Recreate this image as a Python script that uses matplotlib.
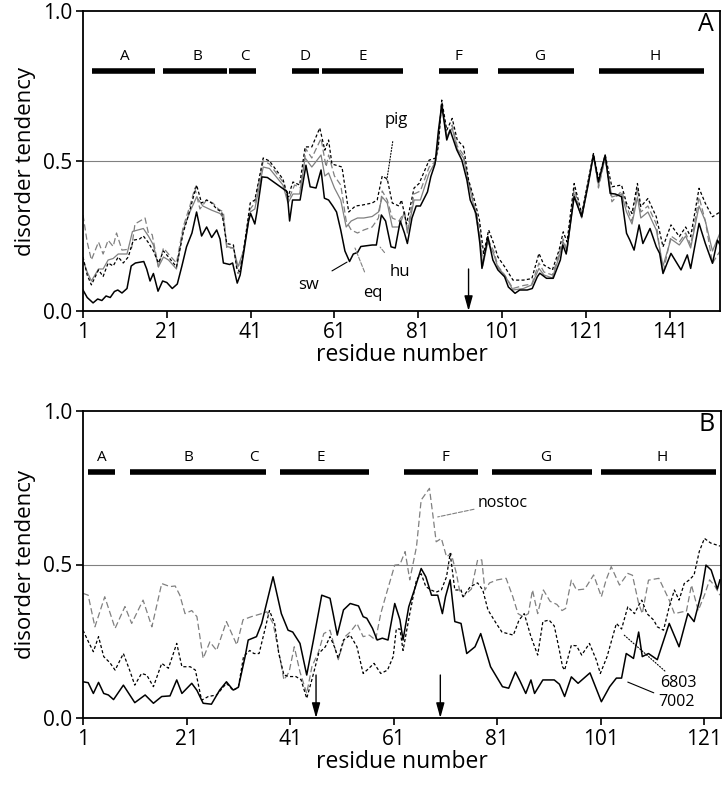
import matplotlib
matplotlib.use("Agg")
import matplotlib.pyplot as plt

plt.rcParams['font.family'] = ['Open Sans', 'DejaVu Sans']

# ---------------- panel A data (residue, disorder tendency) ----------------
sw_x = [1, 2, 3.4, 4.5, 5.5, 6.5, 7.5, 8.5, 9.3, 10.3, 11.5, 12.5, 13.5, 15.5, 16.2, 17, 17.8, 18.9, 20, 21,
        22.3, 23.5, 24.6, 25.7, 27, 28.1, 29.3, 30.5, 31.7, 32.9, 33.7, 34.5, 36, 36.7, 37.8, 38.5, 39.3, 40.5,
        41, 42, 42.5, 43.7, 45, 47, 49.7, 50.3, 51, 52.8, 54.2, 55.2, 56.6, 57.8, 58.6, 59.6, 60.6, 61.5, 62.5,
        63.5, 64.6, 65.5, 66.5, 67.3, 70, 71, 72.2, 73.2, 74.5, 75.5, 76.7, 77.7, 78.4, 79.5, 80.5, 81.5, 83.2,
        84, 85, 85.8, 86.6, 87.8, 88.6, 90.2, 91.4, 92.6, 93.4, 94.8, 95.7, 96.2, 97.2, 97.6, 98.8, 100, 101.6,
        102.5, 104.1, 105.2, 107, 108.2, 109.4, 110, 111.6, 113.2, 114.9, 115.5, 116.3, 118.2, 120, 121.6,
        122.8, 124, 125.6, 126.8, 128, 129.5, 130.7, 131.5, 132.5, 133.7, 134.6, 136.3, 137.8, 138.6, 139.4,
        141.3, 143.7, 145.2, 146, 148, 149.5, 151.2, 152.4, 153]
sw_y = [0.07, 0.045, 0.027, 0.04, 0.035, 0.05, 0.045, 0.065, 0.07, 0.06, 0.075, 0.15, 0.16, 0.165, 0.14, 0.1,
        0.125, 0.066, 0.1, 0.095, 0.075, 0.09, 0.15, 0.214, 0.26, 0.33, 0.25, 0.28, 0.245, 0.27, 0.24, 0.16,
        0.155, 0.16, 0.093, 0.12, 0.19, 0.30, 0.325, 0.29, 0.33, 0.447, 0.445, 0.425, 0.398, 0.30, 0.37, 0.37,
        0.486, 0.414, 0.41, 0.47, 0.376, 0.37, 0.35, 0.33, 0.27, 0.2, 0.165, 0.19, 0.195, 0.215, 0.22, 0.22,
        0.32, 0.30, 0.214, 0.21, 0.30, 0.26, 0.225, 0.31, 0.35, 0.35, 0.397, 0.448, 0.49, 0.60, 0.687, 0.57,
        0.603, 0.537, 0.503, 0.437, 0.37, 0.325, 0.225, 0.142, 0.214, 0.248, 0.17, 0.137, 0.114, 0.08, 0.059,
        0.07, 0.07, 0.075, 0.114, 0.126, 0.109, 0.109, 0.17, 0.22, 0.19, 0.381, 0.314, 0.425, 0.52, 0.43,
        0.52, 0.392, 0.39, 0.381, 0.259, 0.236, 0.203, 0.287, 0.225, 0.275, 0.214, 0.192, 0.125, 0.192, 0.137,
        0.187, 0.142, 0.292, 0.225, 0.159, 0.236, 0.22]

pig_x = [1, 2, 3, 4.7, 5.8, 7, 8.2, 9.4, 10.6, 11.8, 13, 14.5, 15.4, 16.5, 17.8, 19, 20.2, 21.4, 23.3, 24.9,
         26.5, 28.1, 29.3, 30.5, 31.7, 32.9, 34.1, 35.3, 36.9, 37.7, 38.5, 39.3, 40.9, 42, 44, 45.5, 48.7, 49.9,
         51.1, 52.7, 54, 55.6, 57.5, 58.7, 59.6, 60.4, 62.8, 64.4, 66, 67.6, 70, 71.2, 72.4, 73.6, 74.8, 76.4,
         77, 78.2, 80, 81.2, 83.6, 85.2, 85.8, 86.6, 87.8, 89.1, 90.3, 91.8, 93, 94.4, 95.6, 96.6, 97.8, 99,
         100, 101.6, 103.6, 106.1, 108.1, 109.8, 111, 113, 114.6, 115.6, 116.5, 118.2, 120, 122.8, 124, 125.6,
         127.2, 129.5, 130.7, 132, 133.3, 134.1, 135.8, 137.8, 139.4, 141.3, 143.3, 144.8, 146, 148, 149.5,
         151.2, 153]
pig_y = [0.18, 0.12, 0.087, 0.137, 0.115, 0.16, 0.15, 0.18, 0.16, 0.18, 0.236, 0.24, 0.25, 0.23, 0.2, 0.16,
         0.2, 0.18, 0.147, 0.26, 0.336, 0.42, 0.36, 0.37, 0.36, 0.34, 0.33, 0.225, 0.22, 0.14, 0.13, 0.2, 0.36,
         0.37, 0.51, 0.5, 0.44, 0.38, 0.43, 0.42, 0.547, 0.547, 0.61, 0.536, 0.57, 0.49, 0.48, 0.33, 0.35,
         0.353, 0.36, 0.37, 0.45, 0.44, 0.36, 0.35, 0.37, 0.29, 0.41, 0.425, 0.503, 0.51, 0.548, 0.703, 0.603,
         0.642, 0.57, 0.548, 0.437, 0.37, 0.303, 0.192, 0.27, 0.225, 0.18, 0.148, 0.103, 0.103, 0.108, 0.192,
         0.153, 0.137, 0.203, 0.264, 0.23, 0.425, 0.325, 0.525, 0.44, 0.52, 0.414, 0.42, 0.359, 0.325, 0.425,
         0.348, 0.375, 0.314, 0.214, 0.287, 0.248, 0.28, 0.248, 0.409, 0.359, 0.314, 0.33]

eq_x = [1, 2, 3, 4.7, 5.8, 7, 8.2, 9, 10.3, 11.5, 12.6, 13.4, 15.8, 16.6, 17.5, 19, 20.2, 21.4, 23.3, 24.9,
        26.5, 27.7, 28.9, 30.5, 32, 33.3, 34.5, 35.3, 36.9, 38, 39.3, 40.9, 42, 44, 45.5, 48.7, 50, 51.5, 53,
        54.2, 55.6, 57.8, 59, 59.6, 61, 62.5, 63.8, 65, 66.5, 68, 70, 71.5, 72.4, 73.6, 74.8, 76.4, 77.7, 78.4,
        80, 81.5, 83.6, 85.2, 85.8, 86.6, 87.8, 89.1, 90.3, 91.8, 93, 94.4, 95.6, 96.4, 97.6, 99, 100, 101.6,
        103.6, 106.1, 108.1, 109.8, 111, 113, 114.6, 115.6, 116.5, 118.2, 120, 122.8, 124, 125.6, 127.2,
        129.5, 130.7, 132, 133.3, 134.1, 135.8, 137.8, 139.4, 141.3, 143.3, 144.8, 146, 148, 149.5, 151.2, 153]
eq_y = [0.32, 0.23, 0.17, 0.23, 0.19, 0.236, 0.215, 0.26, 0.203, 0.205, 0.21, 0.29, 0.31, 0.26, 0.255, 0.147,
        0.21, 0.19, 0.16, 0.28, 0.35, 0.41, 0.34, 0.37, 0.36, 0.34, 0.33, 0.21, 0.21, 0.125, 0.2, 0.34, 0.36,
        0.5, 0.49, 0.43, 0.37, 0.42, 0.41, 0.54, 0.51, 0.575, 0.48, 0.52, 0.45, 0.42, 0.3, 0.27, 0.26, 0.27,
        0.28, 0.31, 0.4, 0.37, 0.31, 0.3, 0.33, 0.27, 0.39, 0.4, 0.48, 0.5, 0.56, 0.70, 0.58, 0.62, 0.55, 0.52,
        0.43, 0.35, 0.28, 0.16, 0.24, 0.2, 0.15, 0.12, 0.075, 0.085, 0.09, 0.16, 0.13, 0.12, 0.19, 0.24, 0.2,
        0.41, 0.31, 0.52, 0.41, 0.51, 0.364, 0.40, 0.35, 0.3, 0.41, 0.33, 0.35, 0.29, 0.125, 0.25, 0.23, 0.26,
        0.22, 0.38, 0.3, 0.159, 0.2]

hu_x = [1, 2, 3, 4.7, 5.8, 7, 8.2, 9.4, 11.5, 12.8, 15.4, 16.6, 17.8, 19, 20.2, 21.4, 23.3, 24.9, 26.5, 28.1,
        29.6, 31.7, 33.7, 34.5, 35.3, 36.9, 38, 39.3, 40.9, 42, 44, 45.5, 48.7, 49.9, 51.1, 52.7, 54, 55.6,
        57.8, 58.7, 59.6, 61, 62.5, 63.8, 65, 66.5, 68, 70, 71.5, 72.4, 73.6, 74.8, 76.4, 77.7, 78.4, 80, 81.5,
        83.6, 85.2, 85.8, 86.6, 87.8, 89.1, 90.3, 91.8, 93, 94.4, 95.6, 96.4, 97.6, 99, 100, 101.6, 103.6,
        106.1, 108.1, 109.8, 111, 113, 114.6, 115.6, 116.5, 118.2, 120, 122.8, 124, 125.6, 127.2, 129.5,
        130.7, 132, 133.3, 134.1, 135.8, 137.8, 139.4, 141.3, 143.3, 144.8, 146, 148, 149.5, 151.2, 153]
hu_y = [0.17, 0.13, 0.10, 0.14, 0.14, 0.17, 0.175, 0.19, 0.19, 0.265, 0.275, 0.25, 0.22, 0.147, 0.18, 0.17,
        0.14, 0.27, 0.33, 0.38, 0.35, 0.336, 0.325, 0.31, 0.215, 0.21, 0.148, 0.2, 0.33, 0.34, 0.48, 0.475,
        0.42, 0.36, 0.39, 0.39, 0.51, 0.48, 0.52, 0.45, 0.46, 0.41, 0.37, 0.28, 0.3, 0.31, 0.31, 0.315, 0.33,
        0.38, 0.36, 0.28, 0.28, 0.33, 0.26, 0.37, 0.37, 0.46, 0.5, 0.58, 0.69, 0.58, 0.61, 0.54, 0.51, 0.43,
        0.34, 0.25, 0.15, 0.23, 0.19, 0.145, 0.12, 0.07, 0.075, 0.087, 0.142, 0.12, 0.11, 0.18, 0.23, 0.2,
        0.39, 0.31, 0.52, 0.42, 0.51, 0.38, 0.39, 0.33, 0.29, 0.38, 0.31, 0.33, 0.27, 0.15, 0.24, 0.22, 0.25,
        0.21, 0.35, 0.3, 0.2, 0.26]

helix_a = ['A', 'B', 'C', 'D', 'E', 'F', 'G', 'H']
helix_a_start = [3.1, 20.1, 35.9, 50.9, 58.0, 86.0, 100.0, 124.2]
helix_a_end = [18.2, 35.4, 42.3, 57.3, 77.4, 95.3, 118.2, 149.2]
helix_a_lab = [11.0, 28.2, 39.7, 54.0, 67.8, 90.7, 110.0, 137.5]

# ---------------- panel B data ----------------
b7002_x = [1, 2, 3, 4, 5, 5.9, 6.9, 8.8, 11, 13, 14.6, 16.2, 17.8, 19.1, 20.1, 22, 23, 24.2, 25.8, 27.4, 28.7,
           30, 31, 32.3, 32.9, 34.5, 35.5, 37.7, 39.3, 40.6, 41.5, 42.9, 44.2, 45.5, 47.1, 48.7, 49.3, 50.1,
           51.3, 52.6, 54.2, 55.1, 55.8, 56.9, 57.8, 58.8, 59.9, 61.2, 62.2, 62.8, 63.9, 65.2, 66.3, 67.2, 68.3,
           69.5, 70.4, 71, 71.9, 72.8, 74, 75.1, 76.7, 77.8, 79.7, 82, 83.2, 84.5, 85.4, 86.5, 87.5, 88.2, 89.8,
           92, 93, 94, 95.3, 96.6, 98.9, 101.1, 102.7, 104, 105, 105.9, 106.8, 107.3, 108.3, 109, 110.2, 111.9,
           114.2, 116.1, 117.8, 119, 120.4, 121.3, 122.3, 123.5, 124]
b7002_y = [0.118, 0.115, 0.08, 0.116, 0.08, 0.075, 0.06, 0.107, 0.05, 0.075, 0.048, 0.07, 0.072, 0.124, 0.08,
           0.113, 0.09, 0.048, 0.045, 0.091, 0.118, 0.091, 0.1, 0.2, 0.254, 0.265, 0.308, 0.46, 0.34, 0.286,
           0.28, 0.243, 0.14, 0.254, 0.40, 0.39, 0.34, 0.27, 0.352, 0.373, 0.365, 0.33, 0.325, 0.292, 0.254,
           0.26, 0.254, 0.373, 0.32, 0.254, 0.362, 0.428, 0.487, 0.46, 0.40, 0.40, 0.34, 0.395, 0.45, 0.314,
           0.308, 0.21, 0.232, 0.275, 0.167, 0.102, 0.097, 0.15, 0.12, 0.08, 0.124, 0.08, 0.124, 0.124, 0.11,
           0.07, 0.134, 0.113, 0.147, 0.053, 0.102, 0.13, 0.13, 0.21, 0.2, 0.194, 0.28, 0.2, 0.21, 0.19, 0.308,
           0.232, 0.34, 0.314, 0.406, 0.498, 0.482, 0.42, 0.45]

b6803_x = [1, 2, 3, 4, 5, 6.2, 7.2, 8.8, 10, 11, 12.3, 13.3, 14.6, 16.2, 17.5, 19.1, 20.1, 21.7, 22.7, 23.9,
           25.2, 26.8, 28.7, 30, 31, 32, 33.2, 34, 35, 36.1, 37, 38, 38.8, 39.8, 40.8, 42.1, 43.1, 44.2, 45.2,
           46.5, 47.8, 48.7, 49.6, 50.3, 51.3, 52.6, 53.9, 55.1, 56.1, 57.2, 58.5, 59.8, 60.9, 61.5, 62.2, 62.8,
           64.1, 65.4, 66.3, 67.2, 68.2, 69.2, 70.2, 71.2, 71.9, 72.8, 74, 74.4, 75.8, 77.2, 78.2, 79.2, 80.8,
           81.9, 84.1, 85.2, 86.2, 87.5, 88.8, 89.8, 91, 92, 93, 93.6, 94, 95.3, 96.3, 97.3, 98.8, 100.1, 100.9,
           102.2, 104, 105, 106.2, 107.5, 108.3, 108.9, 109.9, 111.2, 111.9, 113.1, 114.2, 115.2, 116.1, 117.1,
           118.1, 119, 120, 121, 122.2, 124]
b6803_y = [0.286, 0.25, 0.216, 0.265, 0.2, 0.18, 0.156, 0.21, 0.156, 0.107, 0.145, 0.14, 0.102, 0.178, 0.162,
           0.243, 0.167, 0.167, 0.156, 0.058, 0.07, 0.075, 0.113, 0.09, 0.1, 0.2, 0.22, 0.21, 0.21, 0.286, 0.35,
           0.308, 0.21, 0.14, 0.135, 0.135, 0.125, 0.064, 0.125, 0.21, 0.232, 0.265, 0.23, 0.194, 0.254, 0.27,
           0.232, 0.145, 0.16, 0.178, 0.145, 0.156, 0.2, 0.29, 0.29, 0.22, 0.34, 0.45, 0.47, 0.428, 0.417, 0.41,
           0.417, 0.46, 0.536, 0.417, 0.417, 0.395, 0.428, 0.44, 0.417, 0.352, 0.308, 0.28, 0.27, 0.319, 0.34,
           0.265, 0.205, 0.314, 0.319, 0.3, 0.22, 0.167, 0.156, 0.237, 0.235, 0.205, 0.243, 0.19, 0.145, 0.2,
           0.308, 0.29, 0.362, 0.34, 0.367, 0.384, 0.34, 0.319, 0.297, 0.286, 0.362, 0.417, 0.384, 0.438, 0.45,
           0.466, 0.542, 0.585, 0.57, 0.56]

nostoc_x = [1, 2, 3.3, 5.2, 7.2, 9.1, 10.4, 12.6, 14.3, 16.2, 17.8, 18.8, 19.7, 20.7, 22, 23, 24.2, 25.5, 26.8,
            28.7, 30.7, 31.9, 33.5, 35.5, 36.5, 37.7, 39.1, 39.8, 40.8, 41.8, 42.9, 44.2, 45.2, 46.5, 47.5,
            48.7, 49.6, 50.3, 51.6, 52.6, 53.9, 55.1, 56.3, 57.5, 58.5, 59.5, 61.2, 62.2, 63.2, 64.1, 65.4,
            66.3, 67.9, 68.6, 69.2, 70.2, 71.2, 72.1, 73.1, 73.7, 74.4, 76, 77.2, 78, 78.6, 79.5, 81, 82.7, 84,
            85, 86, 87, 87.8, 88.8, 89.9, 91.2, 92.5, 93.5, 94.2, 95.3, 96.3, 97.9, 99.6, 101.1, 102, 103, 104.6,
            106.2, 107.1, 108.3, 109, 110.2, 112.2, 114.2, 115.2, 116.8, 117.5, 118.5, 119.8, 121, 122, 123, 124]
nostoc_y = [0.406, 0.40, 0.297, 0.395, 0.292, 0.363, 0.308, 0.384, 0.297, 0.438, 0.428, 0.43, 0.40, 0.34,
            0.35, 0.33, 0.194, 0.248, 0.22, 0.314, 0.238, 0.32, 0.33, 0.34, 0.346, 0.308, 0.19, 0.124, 0.15,
            0.232, 0.15, 0.08, 0.167, 0.216, 0.275, 0.286, 0.23, 0.19, 0.265, 0.28, 0.308, 0.265, 0.27, 0.254,
            0.34, 0.40, 0.498, 0.50, 0.542, 0.45, 0.558, 0.71, 0.748, 0.656, 0.574, 0.585, 0.525, 0.536, 0.471,
            0.417, 0.395, 0.42, 0.515, 0.515, 0.417, 0.44, 0.45, 0.455, 0.395, 0.34, 0.33, 0.34, 0.417, 0.34,
            0.417, 0.38, 0.37, 0.35, 0.357, 0.449, 0.417, 0.42, 0.466, 0.395, 0.449, 0.493, 0.433, 0.471, 0.465,
            0.373, 0.34, 0.449, 0.455, 0.384, 0.34, 0.346, 0.346, 0.433, 0.35, 0.40, 0.45, 0.43, 0.40]

helix_b = ['A', 'B', 'C', 'E', 'F', 'G', 'H']
helix_b_lab = [4.7, 21.3, 34.0, 46.9, 70.9, 90.4, 112.8]
helix_b_start = [2.0, 10.1, 39.0, 63.0, 80.0, 101.0]
helix_b_end = [7.2, 36.3, 56.2, 77.3, 99.3, 123.2]

arrows_a = [93]
arrows_b = [46, 70]

ticks_a = [1, 21, 41, 61, 81, 101, 121, 141]
ticks_b = [1, 21, 41, 61, 81, 101, 121]

GREY = '#808080'

fig = plt.figure(figsize=(7.25, 7.91), dpi=100)
axA = fig.add_axes([83 / 725, 1 - 311 / 791, 637 / 725, 300 / 791])
axB = fig.add_axes([83 / 725, 1 - 718 / 791, 638 / 725, 307 / 791])


def style_axes(ax, xmax, ticks):
    ax.set_xlim(1, xmax)
    ax.set_ylim(0, 1)
    ax.set_xticks(ticks)
    ax.set_yticks([0, 0.5, 1.0])
    ax.set_yticklabels(['0.0', '0.5', '1.0'])
    ax.tick_params(direction='out', length=5, width=1.2, labelsize=15, pad=3, top=False, right=False)
    for s in ax.spines.values():
        s.set_linewidth(1.3)
    ax.axhline(0.5, color=GREY, lw=0.8, zorder=1)
    ax.set_xlabel('residue number', fontsize=16.5, labelpad=0)
    ax.set_ylabel('disorder tendency', fontsize=16, labelpad=5)


def arrow_down(ax, x):
    ax.annotate('', xy=(x, 0.0), xytext=(x, 0.14),
                arrowprops=dict(arrowstyle='-|>,head_length=0.9,head_width=0.25', color='black', lw=1.0,
                                shrinkA=0, shrinkB=0))


# ---- panel A ----
style_axes(axA, 153, ticks_a)
axA.plot(eq_x, eq_y, color=GREY, lw=0.9, ls=(0, (5, 2.5)))
axA.plot(hu_x, hu_y, color=GREY, lw=0.9)
axA.plot(pig_x, pig_y, color='black', lw=0.9, ls=(0, (2.5, 1.8)))
axA.plot(sw_x, sw_y, color='black', lw=1.1)
axA.hlines([0.8] * len(helix_a), helix_a_start, helix_a_end, color='black', lw=4)
for lab, xl in zip(helix_a, helix_a_lab):
    axA.text(xl, 0.85, lab, ha='center', va='center', fontsize=11)
for xa in arrows_a:
    arrow_down(axA, xa)
axA.text(0.99, 0.955, 'A', transform=axA.transAxes, ha='right', va='center', fontsize=18)

axA.annotate('sw', xy=(64, 0.163), xytext=(54.7, 0.087), fontsize=12, ha='center', va='center',
             arrowprops=dict(arrowstyle='-', color='black', lw=0.8, shrinkA=9, shrinkB=0))
axA.annotate('eq', xy=(65.9, 0.21), xytext=(70.2, 0.06), fontsize=12, ha='center', va='center',
             arrowprops=dict(arrowstyle='-', color=GREY, lw=0.8, ls='--', shrinkA=8, shrinkB=0))
axA.annotate('hu', xy=(71.9, 0.213), xytext=(76.7, 0.13), fontsize=12, ha='center', va='center',
             arrowprops=dict(arrowstyle='-', color=GREY, lw=0.8, ls='--', shrinkA=8, shrinkB=0))
axA.annotate('pig', xy=(73.5, 0.437), xytext=(75.7, 0.637), fontsize=12, ha='center', va='center',
             arrowprops=dict(arrowstyle='-', color='black', lw=0.8, ls=':', shrinkA=8, shrinkB=0))

# ---- panel B ----
style_axes(axB, 124.2, ticks_b)
axB.plot(nostoc_x, nostoc_y, color=GREY, lw=0.9, ls=(0, (5, 2.5)))
axB.plot(b6803_x, b6803_y, color='black', lw=0.9, ls=(0, (2.5, 1.8)))
axB.plot(b7002_x, b7002_y, color='black', lw=1.1)
axB.hlines([0.8] * len(helix_b_start), helix_b_start, helix_b_end, color='black', lw=4)
for lab, xl in zip(helix_b, helix_b_lab):
    axB.text(xl, 0.85, lab, ha='center', va='center', fontsize=11)
for xa in arrows_b:
    arrow_down(axB, xa)
axB.text(0.99, 0.955, 'B', transform=axB.transAxes, ha='right', va='center', fontsize=18)

axB.annotate('nostoc', xy=(69.5, 0.655), xytext=(77.3, 0.70), fontsize=11.5, ha='left', va='center',
             arrowprops=dict(arrowstyle='-', color=GREY, lw=0.8, ls='--', shrinkA=1, shrinkB=0))
axB.annotate('6803', xy=(105.5, 0.27), xytext=(112.4, 0.115), fontsize=11.5, ha='left', va='center',
             arrowprops=dict(arrowstyle='-', color='black', lw=0.8, ls=':', shrinkA=1, shrinkB=0))
axB.annotate('7002', xy=(106.2, 0.117), xytext=(112.0, 0.052), fontsize=11.5, ha='left', va='center',
             arrowprops=dict(arrowstyle='-', color='black', lw=0.8, shrinkA=1, shrinkB=0))

fig.savefig('out.png', dpi=100)
